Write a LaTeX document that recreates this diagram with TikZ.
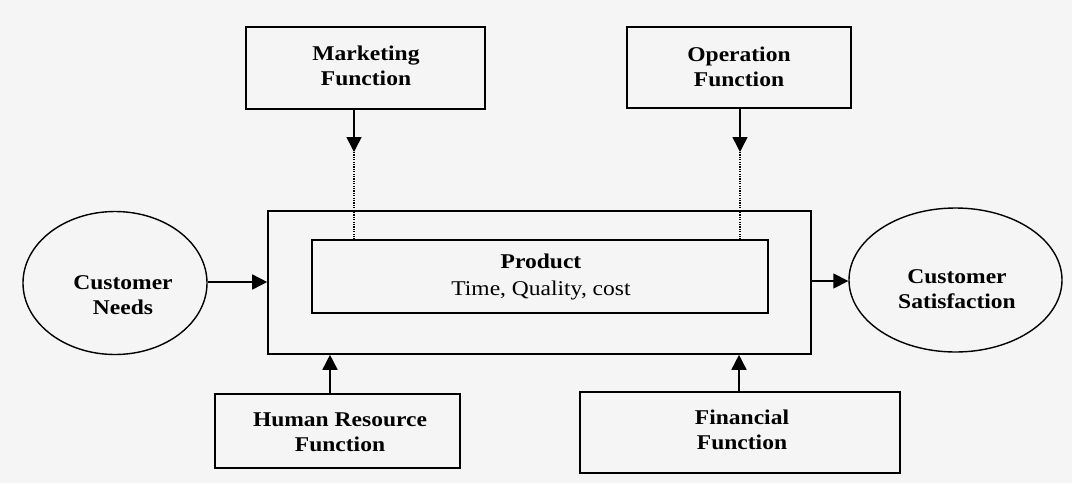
\documentclass[tikz,border=0pt]{standalone}
\usepackage{fontspec}
\setmainfont{Liberation Serif}[FakeStretch=1.12]
\usetikzlibrary{arrows.meta,shapes.geometric}
\begin{document}
\begin{tikzpicture}[x=1pt,y=-1pt,
  box/.style={draw,line width=1.6pt,rectangle,inner sep=0pt},
  oval/.style={draw,line width=1.4pt,ellipse,inner sep=0pt},
  lbl/.style={font=\fontsize{21}{25.5}\selectfont\bfseries,align=center},
  arr/.style={line width=1.6pt,-{Triangle[length=15pt,width=15pt]}},
  dots/.style={line width=1.3pt,dash pattern=on 1.2pt off 1.2pt}]
\fill[black!4] (0,0) rectangle (1072,483);
\useasboundingbox (0,0) rectangle (1072,483);
% boxes
\node[box,minimum width=239pt,minimum height=82pt] (mk) at (365.5,68) {};
\node[lbl] (mktxt) at (366,66) {Marketing\\Function};
\node[box,minimum width=224pt,minimum height=81pt] (op) at (739,67.5) {};
\node[lbl] (optxt) at (739,67) {Operation\\Function};
\node[box,minimum width=543pt,minimum height=143pt] (outer) at (539.5,282.5) {};
\node[box,minimum width=456pt,minimum height=73pt] (inner) at (540,276.5) {};
\node[align=center,font=\fontsize{21}{27}\selectfont] (prod) at (541,277) {\textbf{Product}\\Time, Quality, cost};
\node[oval,minimum width=184pt,minimum height=143pt] (cn) at (115,283) {};
\node[lbl] (cntxt) at (123,295) {Customer\\Needs};
\node[oval,minimum width=213pt,minimum height=144pt] (cs) at (955.5,280) {};
\node[lbl] (cstxt) at (957,289) {Customer\\Satisfaction};
\node[box,minimum width=245pt,minimum height=74pt] (hr) at (337.5,431) {};
\node[lbl] (hrtxt) at (340,432) {Human Resource\\Function};
\node[box,minimum width=320pt,minimum height=81pt] (fin) at (740,432.5) {};
\node[lbl] (fintxt) at (742,430) {Financial\\Function};
% connectors
\coordinate (mtip) at (354,152);
\coordinate (otip) at (740,152);
\draw[arr] (mk.south -| mtip) -- (mtip);
\draw[dots] (mtip) -- (inner.north -| mtip);
\draw[arr] (op.south -| otip) -- (otip);
\draw[dots] (otip) -- (inner.north -| otip);
\draw[arr] (cn.east |- 0,282) -- (outer.west |- 0,282);
\draw[arr] (outer.east |- 0,281) -- (cs.west |- 0,281);
\coordinate (hrx) at (330,0);
\coordinate (finx) at (739,0);
\draw[arr] (hr.north -| hrx) -- (outer.south -| hrx);
\draw[arr] (fin.north -| finx) -- (outer.south -| finx);
\end{tikzpicture}
\end{document}
